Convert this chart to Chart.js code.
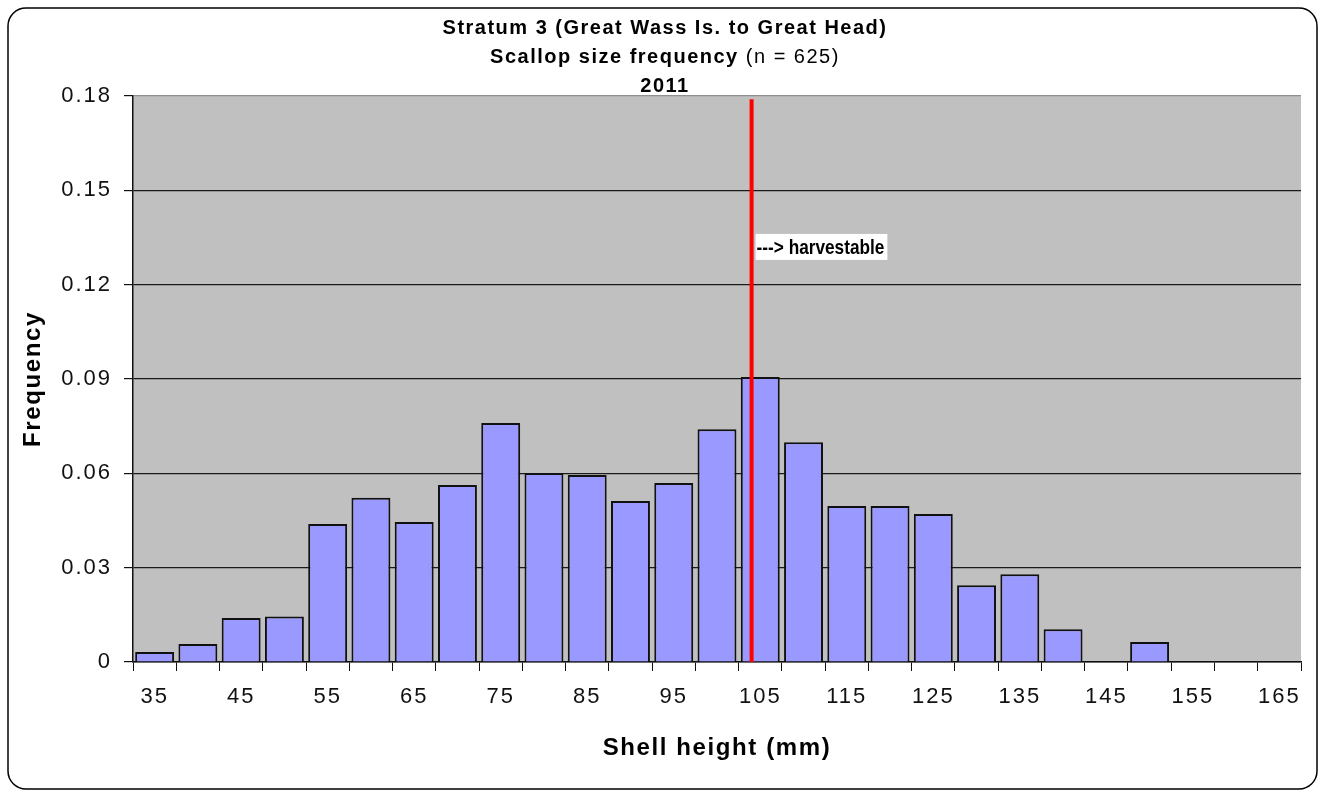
<!DOCTYPE html>
<html>
<head>
<meta charset="utf-8">
<script src="https://cdn.jsdelivr.net/npm/chart.js@4.4.1/dist/chart.umd.min.js"></script>
<style>
  html, body { margin: 0; padding: 0; background: #fff; }
  #wrap { width: 1326px; height: 792px; }
</style>
</head>
<body>
<div id="wrap"><canvas id="sizeChart" width="1326" height="792"></canvas></div>
<script>
// shell height classes (mm) and frequency of each
const sizeClasses = [35, 40, 45, 50, 55, 60, 65, 70, 75, 80, 85, 90, 95, 100, 105,
  110, 115, 120, 125, 130, 135, 140, 145, 150, 155, 160, 165];
const frequency = [0.0032, 0.0057, 0.014, 0.0145, 0.0439, 0.0522, 0.0445, 0.0563, 0.076,
  0.0601, 0.0595, 0.0512, 0.0569, 0.074, 0.0906, 0.0699, 0.0496, 0.0496, 0.0471,
  0.0244, 0.0279, 0.0104, 0, 0.0064, 0, 0, 0];
const yTicks = [0, 0.03, 0.06, 0.09, 0.12, 0.15, 0.18];

// legal harvest size marker
const harvestSize = 104;
const harvestTop = 0.179;
const harvestLabel = "---> harvestable";
const harvestLabelY = 0.132;

const titleLine1 = "Stratum 3 (Great Wass Is. to Great Head)";
const titleLine2Bold = "Scallop size frequency";
const titleLine2Plain = " (n = 625)";
const titleLine3 = "2011";
const xTitle = "Shell height (mm)";
const yTitle = "Frequency";

const FONT = "'Liberation Sans', Arial, sans-serif";

const decor = {
  id: "decor",
  beforeDraw(chart) {
    const { ctx, chartArea: a } = chart;
    ctx.save();
    ctx.fillStyle = "#ffffff";
    ctx.fillRect(0, 0, chart.width, chart.height);
    ctx.fillStyle = "#c0c0c0";
    ctx.fillRect(a.left, a.top, a.right - a.left, a.bottom - a.top);
    ctx.restore();
    // wide spacing for tick labels, like the original
    ctx.letterSpacing = "2px";
  },
  afterDraw(chart) {
    const { ctx, chartArea: a, scales } = chart;
    ctx.letterSpacing = "0px";
    ctx.save();

    // red harvest line
    const step = sizeClasses[1] - sizeClasses[0];
    const hx = scales.x.getPixelForValue((harvestSize - sizeClasses[0]) / step);
    ctx.strokeStyle = "#ff0000";
    ctx.lineWidth = 4;
    ctx.beginPath();
    ctx.moveTo(hx, a.bottom);
    ctx.lineTo(hx, scales.y.getPixelForValue(harvestTop));
    ctx.stroke();

    // harvestable label (narrow bold text in a white box)
    const ly = scales.y.getPixelForValue(harvestLabelY);
    const squeeze = 0.82;
    ctx.font = "bold 21px " + FONT;
    const lw = ctx.measureText(harvestLabel).width * squeeze;
    ctx.fillStyle = "#ffffff";
    ctx.fillRect(hx + 4, ly - 13, lw + 4, 26);
    ctx.fillStyle = "#000000";
    ctx.textBaseline = "middle";
    ctx.textAlign = "left";
    ctx.save();
    ctx.translate(hx + 5, ly + 1);
    ctx.scale(squeeze, 1);
    ctx.fillText(harvestLabel, 0, 0);
    ctx.restore();

    // titles
    ctx.textAlign = "center";
    ctx.letterSpacing = "1.5px";
    const cx = chart.width / 2 + 2;
    ctx.font = "bold 20px " + FONT;
    ctx.fillText(titleLine1, cx, 28);
    ctx.fillText(titleLine3, cx, 86);
    const w1 = ctx.measureText(titleLine2Bold).width;
    ctx.font = "20px " + FONT;
    const w2 = ctx.measureText(titleLine2Plain).width;
    ctx.textAlign = "left";
    ctx.font = "bold 20px " + FONT;
    ctx.fillText(titleLine2Bold, cx - (w1 + w2) / 2, 57);
    ctx.font = "20px " + FONT;
    ctx.fillText(titleLine2Plain, cx - (w1 + w2) / 2 + w1, 57);

    // axis titles
    ctx.textAlign = "center";
    ctx.letterSpacing = "1.6px";
    ctx.font = "bold 24px " + FONT;
    ctx.fillText(xTitle, (a.left + a.right) / 2, 748);
    ctx.translate(33, (a.top + a.bottom) / 2);
    ctx.rotate(-Math.PI / 2);
    ctx.fillText(yTitle, 0, 0);
    ctx.restore();

    // outer rounded frame
    ctx.save();
    ctx.letterSpacing = "0px";
    ctx.strokeStyle = "#000000";
    ctx.lineWidth = 1.5;
    ctx.beginPath();
    ctx.roundRect(8, 8, 1309, 781, 18);
    ctx.stroke();
    ctx.restore();
  }
};

Chart.defaults.font.family = FONT;
Chart.defaults.color = "#111111";

new Chart(document.getElementById("sizeChart"), {
  type: "bar",
  data: {
    labels: sizeClasses.map(String),
    datasets: [
      {
        label: "Frequency",
        data: frequency,
        backgroundColor: "#9999ff",
        borderColor: "#111111",
        borderWidth: 2,
        barPercentage: 0.9,
        categoryPercentage: 1.0,
      },
    ],
  },
  options: {
    responsive: false,
    animation: false,
    layout: { padding: { left: 0, top: 96, right: 25, bottom: 0 } },
    plugins: {
      legend: { display: false },
      title: { display: false },
      tooltip: { enabled: false },
    },
    scales: {
      x: {
        offset: true,
        grid: {
          offset: true,
          drawOnChartArea: false,
          drawTicks: true,
          tickLength: 9,
          color: "#111111",
        },
        border: { display: true, color: "#111111", width: 1.5 },
        ticks: {
          autoSkip: false,
          maxRotation: 0,
          padding: 13,
          font: { size: 22 },
          callback: (v, i) => (i % 2 === 0 ? sizeClasses[i] : ""),
        },
        afterFit: (s) => { s.height = 130; },
      },
      y: {
        min: 0,
        max: 0.18,
        grid: {
          color: (c) => (c.index === yTicks.length - 1 ? "#909090" : "#1a1a1a"),
          tickColor: "#111111",
          tickLength: 9,
          lineWidth: 1.2,
        },
        border: { display: true, color: "#111111", width: 1.5 },
        ticks: {
          padding: 12,
          font: { size: 22 },
          callback: (v) => (v === 0 ? "0" : v.toFixed(2)),
        },
        afterBuildTicks: (s) => { s.ticks = yTicks.map((v) => ({ value: v })); },
        afterFit: (s) => { s.width = 133; },
      },
    },
  },
  plugins: [decor],
});
</script>
</body>
</html>
